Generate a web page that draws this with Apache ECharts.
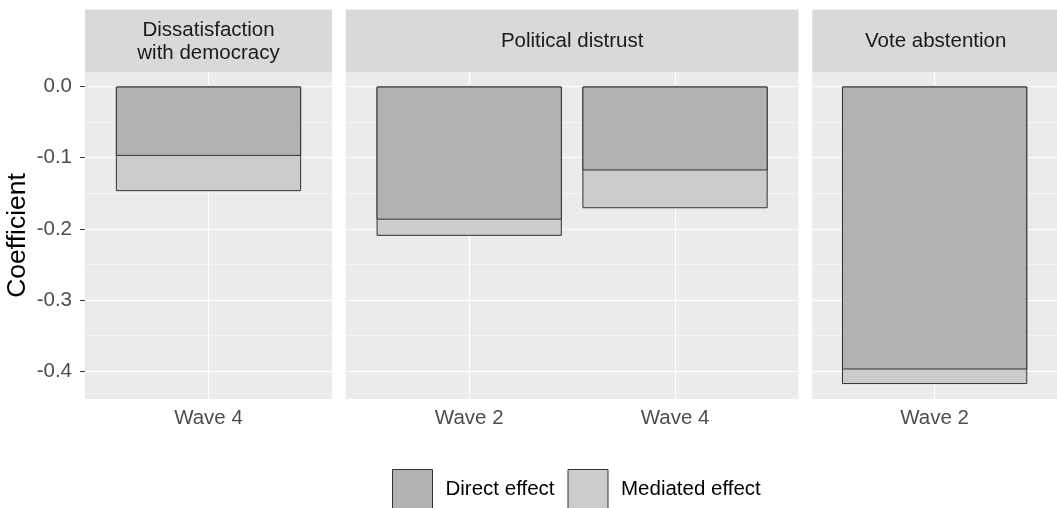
<!DOCTYPE html>
<html><head><meta charset="utf-8">
<script src="https://cdn.jsdelivr.net/npm/echarts@6/dist/echarts.min.js"></script>
<style>html,body{margin:0;padding:0;background:#fff}#c{width:1057px;height:508px}</style>
</head><body><div id="c"></div>
<script>
// ---- data ----
const panelTitles = ['Dissatisfaction\nwith democracy', 'Political distrust', 'Vote abstention'];
const panelWaves = [['Wave 4'], ['Wave 2', 'Wave 4'], ['Wave 2']];
const directEffect = [[-0.0975], [-0.187, -0.118], [-0.3975]];
const totalEffect = [[-0.147], [-0.2098, -0.171], [-0.418]];
const yTicks = [0, -0.1, -0.2, -0.3, -0.4];
const yMinorTicks = [-0.05, -0.15, -0.25, -0.35];
const seriesNames = ['Direct effect', 'Mediated effect'];

// ---- layout / style ----
const FONT = '"Liberation Sans", Arial, sans-serif';
const FS = 20.5;
const plotTop = 72, plotBottom = 399, stripTop = 9.5;
const firstLeft = 85, unitW = 247 / 1.2, gap = 13.7;
const yMin = -0.439, yMax = 0.0204;
const directColor = '#b2b2b2', mediatedColor = '#cccccc', edge = '#333333';

const lefts = [], widths = [];
let cx = firstLeft;
panelWaves.forEach(w => { const wd = unitW * (w.length + 0.2); lefts.push(cx); widths.push(wd); cx += wd + gap; });

const grid = [], xAxis = [], yAxis = [], series = [], graphic = [];
panelWaves.forEach((waves, i) => {
  grid.push({left: lefts[i], top: plotTop, width: widths[i], height: plotBottom - plotTop,
    show: true, backgroundColor: '#ebebeb', borderWidth: 0});
  const ticksX = waves.map((_, k) => k + 1);
  xAxis.push({type: 'value', gridIndex: i, min: 0.4, max: waves.length + 0.6,
    axisLine: {show: false},
    axisTick: {show: true, customValues: ticksX, length: 4, lineStyle: {color: edge, width: 1}},
    axisLabel: {customValues: ticksX, formatter: v => waves[Math.round(v) - 1],
      color: '#4d4d4d', fontSize: FS, fontFamily: FONT, margin: 9},
    splitLine: {show: true, lineStyle: {color: '#ffffff', width: 1}}});
  yAxis.push({type: 'value', gridIndex: i, min: yMin, max: yMax, position: 'left',
    axisLine: {show: false},
    axisTick: {show: i === 0, customValues: yTicks, length: 5, lineStyle: {color: edge, width: 1}},
    axisLabel: {show: i === 0, customValues: yTicks, formatter: v => v.toFixed(1),
      color: '#4d4d4d', fontSize: FS, fontFamily: FONT, margin: 13},
    splitLine: {show: true, lineStyle: {color: '#ffffff', width: 1}},
    name: i === 0 ? 'Coefficient' : '', nameLocation: 'middle', nameGap: 54,
    nameTextStyle: {fontSize: 26.5, color: '#000', fontFamily: FONT}});
  yAxis.push({type: 'value', gridIndex: i, min: yMin, max: yMax, position: 'right',
    axisLine: {show: false},
    axisTick: {show: false, customValues: yMinorTicks},
    axisLabel: {show: false, customValues: yMinorTicks},
    splitLine: {show: true, lineStyle: {color: '#ffffff', width: 0.5}}});
  const bw = 0.9 * unitW;
  series.push({type: 'bar', name: 'Mediated effect', xAxisIndex: i, yAxisIndex: 2 * i,
    barWidth: bw, barGap: '-100%', z: 3, silent: true,
    itemStyle: {color: mediatedColor, borderColor: edge, borderWidth: 1},
    data: waves.map((_, k) => [k + 1, totalEffect[i][k]])});
  series.push({type: 'bar', name: 'Direct effect', xAxisIndex: i, yAxisIndex: 2 * i,
    barWidth: bw, barGap: '-100%', z: 3, silent: true,
    itemStyle: {color: directColor, borderColor: edge, borderWidth: 1},
    data: waves.map((_, k) => [k + 1, directEffect[i][k]])});
  graphic.push({type: 'rect', shape: {x: lefts[i], y: stripTop, width: widths[i], height: plotTop - stripTop},
    style: {fill: '#d9d9d9'}, silent: true});
  graphic.push({type: 'text', x: lefts[i] + widths[i] / 2, y: (stripTop + plotTop) / 2 + 1,
    style: {text: panelTitles[i], align: 'center', verticalAlign: 'middle', fill: '#1a1a1a',
      fontSize: FS, fontFamily: FONT, lineHeight: 23}, silent: true});
});

const chart = echarts.init(document.getElementById('c'), null, {renderer: 'canvas'});
chart.setOption({
  animation: false,
  backgroundColor: '#ffffff',
  grid, xAxis, yAxis, series, graphic,
  legend: {data: seriesNames, left: 387, top: 464, itemWidth: 40, itemHeight: 40, itemGap: 13,
    icon: 'rect', selectedMode: false,
    itemStyle: {borderColor: edge, borderWidth: 1},
    textStyle: {fontSize: FS, color: '#000', fontFamily: FONT, padding: [0, 0, 0, 8]}}
});
</script></body></html>
